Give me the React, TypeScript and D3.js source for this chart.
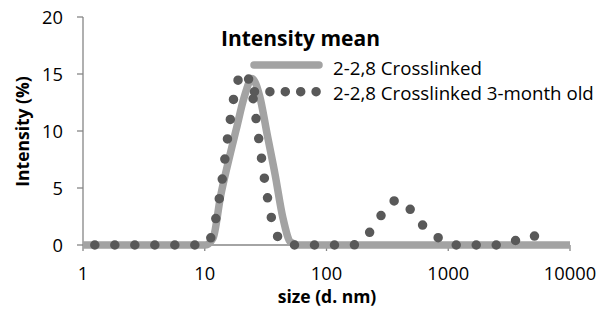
import React from "react";
import * as d3 from "d3";

// ---- data ----
const xTickValues = [1, 10, 100, 1000, 10000];
const yTickValues = [0, 5, 10, 15, 20];

const seriesNames = ["2-2,8 Crosslinked", "2-2,8 Crosslinked 3-month old"];
const legendTitle = "Intensity mean";
const xAxisTitle = "size (d. nm)";
const yAxisTitle = "Intensity (%)";

const sizesSolid = [1, 10.1, 11.7, 13.5, 15.7, 18.2, 21.0, 24.4, 28.2, 32.7, 37.8, 43.8, 50.7, 58.8, 10000];
const valuesSolid = [0, 0, 0.6, 4.3, 7.4, 10.2, 12.9, 14.6, 13.1, 9.6, 6.2, 2.4, 0.25, 0, 0];

const sizesDotted = [1.25, 10.1, 11.7, 13.5, 15.7, 18.2, 21.0, 24.4, 28.2, 32.7, 37.8, 43.8, 50.7,
  164, 190, 220, 255, 295, 342, 396, 459, 531, 615, 712, 825, 955, 1106,
  2669, 3091, 3580, 4145, 4801, 5560, 6439];
const valuesDotted = [0, 0, 1.25, 4.8, 10.0, 14.0, 15.2, 13.4, 8.8, 4.2, 1.2, 0.3, 0,
  0, 0.3, 0.95, 1.95, 2.9, 3.75, 3.95, 3.45, 2.6, 1.75, 1.2, 0.65, 0.2, 0,
  0, 0.15, 0.4, 0.7, 0.85, 0.6, 0.35];

const W = 597;
const H = 313;
const FONT = "'Open Sans', sans-serif";
const AXIS = "#868686";
const SOLID = "#a3a3a3";
const DOT = "#595959";

export default function App() {
  const x = d3.scaleLog().domain([1, 10000]).range([83, 570]);
  const y = d3.scaleLinear().domain([0, 20]).range([245, 17]);

  const line = d3
    .line<[number, number]>()
    .x((d) => x(d[0]))
    .y((d) => y(d[1]))
    .curve(d3.curveMonotoneX);

  const solidPath = line(sizesSolid.map((s, i) => [s, valuesSolid[i]]) as [number, number][]) || "";
  const dottedPath = line(sizesDotted.map((s, i) => [s, valuesDotted[i]]) as [number, number][]) || "";

  return (
    <>
      <style>{"body{margin:0}"}</style>
      <svg width={W} height={H} style={{ display: "block", background: "#fff" }} fontFamily={FONT}>
        {/* axes */}
        <line x1={83} x2={83} y1={y(20)} y2={y(0)} stroke={AXIS} strokeWidth={1.3} />
        <line x1={83} x2={570} y1={y(0)} y2={y(0)} stroke={AXIS} strokeWidth={1.3} />
        {yTickValues.map((t) => (
          <g key={"y" + t}>
            <line x1={77} x2={83} y1={y(t)} y2={y(t)} stroke={AXIS} strokeWidth={1.3} />
            <text x={63} y={y(t)} dy="0.36em" textAnchor="end" fontSize={18.3} fill="#000">
              {t}
            </text>
          </g>
        ))}
        {xTickValues.map((t) => (
          <g key={"x" + t}>
            <line x1={x(t)} x2={x(t)} y1={y(0)} y2={y(0) + 6} stroke={AXIS} strokeWidth={1.3} />
            <text x={x(t)} y={280} textAnchor="middle" fontSize={18.3} fill="#000">
              {t}
            </text>
          </g>
        ))}
        <text x={327} y={303} textAnchor="middle" fontSize={17.5} fontWeight="bold" fill="#000">
          {xAxisTitle}
        </text>
        <text
          transform={`translate(23,131.5) rotate(-90)`}
          dy="0.35em"
          textAnchor="middle"
          fontSize={17.5}
          fontWeight="bold"
          fill="#000"
        >
          {yAxisTitle}
        </text>

        {/* series */}
        <path d={solidPath} fill="none" stroke={SOLID} strokeWidth={7.5} strokeLinejoin="round" />
        <path
          d={dottedPath}
          fill="none"
          stroke={DOT}
          strokeWidth={9.5}
          strokeLinecap="round"
          strokeDasharray="0 20"
        />

        {/* legend */}
        <text x={221} y={46} fontSize={21} fontWeight="bold" fill="#000">
          {legendTitle}
        </text>
        <line x1={254} x2={319} y1={65} y2={65} stroke={SOLID} strokeWidth={7.5} strokeLinecap="round" />
        <text x={333} y={75} fontSize={18.7} fill="#000">
          {seriesNames[0]}
        </text>
        <line
          x1={254.5}
          x2={318}
          y1={91.7}
          y2={91.7}
          stroke={DOT}
          strokeWidth={9.5}
          strokeLinecap="round"
          strokeDasharray="0 15.4"
        />
        <text x={333} y={100} fontSize={18.7} fill="#000">
          {seriesNames[1]}
        </text>
      </svg>
    </>
  );
}
